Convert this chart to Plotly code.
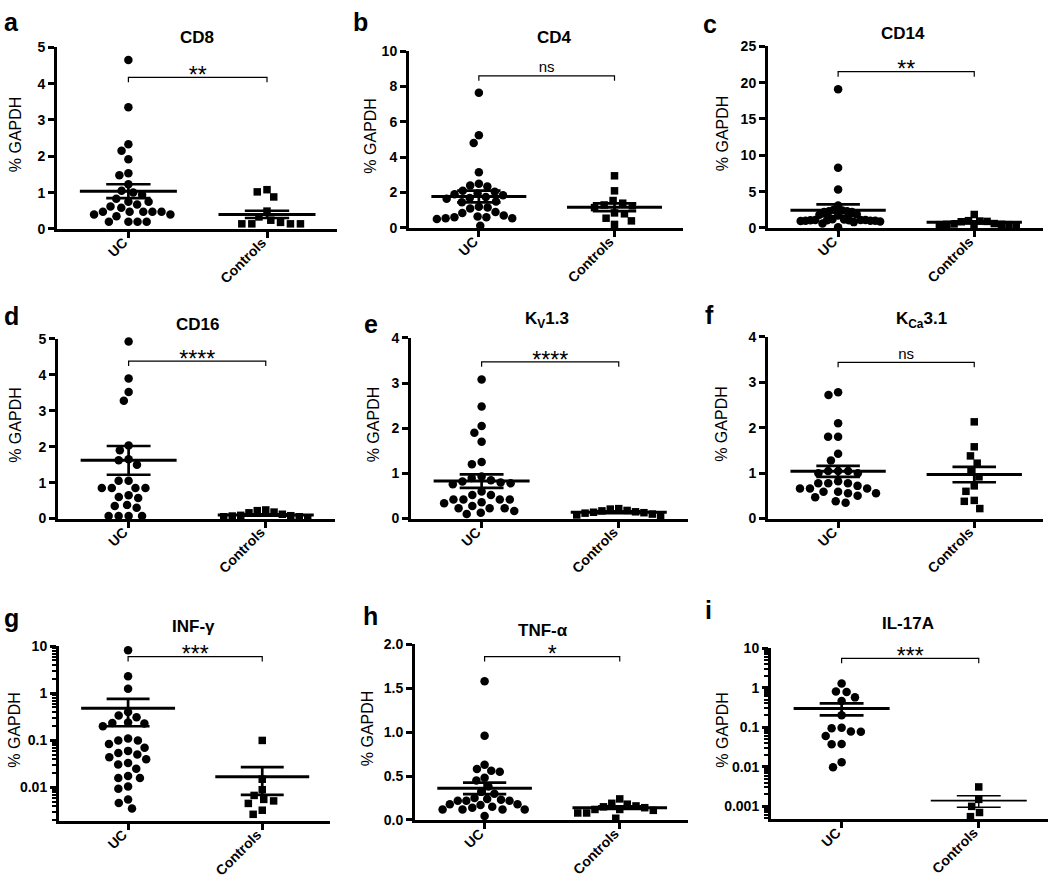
import math
import plotly.graph_objects as go

W, H = 1050, 882
FONT = "Liberation Sans, Arial, Helvetica, sans-serif"

# ---------------- data ----------------
groups = ["UC", "Controls"]
letters = ["a", "b", "c", "d", "e", "f", "g", "h", "i"]
titles = ["CD8", "CD4", "CD14", "CD16", "K<sub>V</sub>1.3", "K<sub>Ca</sub>3.1",
          "INF-γ", "TNF-α", "IL-17A"]
significance = ["**", "ns", "**", "****", "****", "ns", "***", "*", "***"]

cd8_uc = [4.65, 3.35, 2.33, 2.15, 1.92, 1.53, 1.48, 1.23, 1.05, 1.0, 0.94, 0.83, 0.75, 0.75,
          0.67, 0.62, 0.58, 0.47, 0.47, 0.47, 0.47, 0.47, 0.40, 0.40, 0.35, 0.2, 0.2, 0.2, 0.2]
cd8_ctrl = [1.08, 1.02, 0.88, 0.49, 0.33, 0.24, 0.18, 0.14, 0.14, 0.14, 0.14]

cd4_uc = [7.65, 5.25, 4.8, 3.15, 2.5, 2.4, 2.35, 2.1, 2.05, 1.95, 1.9, 1.85, 1.75, 1.7, 1.65,
          1.5, 1.45, 1.2, 1.15, 1.1, 0.9, 0.85, 0.7, 0.65, 0.6, 0.6, 0.55, 0.55, 0.5, 0.12]
cd4_ctrl = [2.95, 2.1, 1.55, 1.4, 1.3, 1.25, 1.15, 0.85, 0.8, 0.55, 0.4, 0.2]

cd14_uc = [19.1, 8.3, 5.3, 3.1, 2.5, 2.4, 2.3, 2.3, 2.2, 2.2, 1.9, 1.8, 1.7, 1.2, 1.15, 1.1,
           1.1, 1.1, 1.05, 1.05, 1.05, 1.0, 1.0, 1.0, 0.95, 0.9, 0.8, 0.6, 0.1]
cd14_ctrl = [1.85, 1.0, 0.95, 0.9, 0.85, 0.6, 0.55, 0.5, 0.5, 0.45, 0.45, 0.4, 0.1]

cd16_uc = [4.93, 3.9, 3.52, 3.28, 2.03, 1.9, 1.65, 1.62, 1.5, 1.05, 1.05, 0.85, 0.85, 0.85,
           0.85, 0.65, 0.6, 0.57, 0.38, 0.35, 0.3, 0.07, 0.07, 0.07, 0.07]
cd16_ctrl = [0.24, 0.18, 0.12, 0.08, 0.05, 0.02, 0.05, 0.07, 0.09, 0.16, 0.22]

kv13_uc = [3.08, 2.48, 2.05, 1.9, 1.7, 1.25, 1.2, 0.93, 0.9, 0.85, 0.82, 0.8, 0.78, 0.76, 0.6,
           0.52, 0.52, 0.42, 0.42, 0.42, 0.42, 0.36, 0.34, 0.28, 0.23, 0.23, 0.23, 0.17, 0.13, 0.1]
kv13_ctrl = [0.22, 0.18, 0.15, 0.13, 0.1, 0.05, 0.08, 0.12, 0.14, 0.17, 0.21]

kca31_uc = [2.78, 2.72, 2.1, 1.8, 1.8, 1.43, 1.28, 1.05, 1.05, 1.05, 1.0, 1.0, 0.82, 0.78, 0.78,
            0.78, 0.72, 0.66, 0.66, 0.66, 0.59, 0.59, 0.56, 0.56, 0.5, 0.47, 0.38, 0.35]
kca31_ctrl = [2.13, 1.58, 1.38, 1.22, 1.05, 0.92, 0.72, 0.6, 0.4, 0.38, 0.22]

infg_uc = [8.2, 2.3, 1.25, 0.4, 0.34, 0.31, 0.24, 0.235, 0.23, 0.2, 0.1, 0.1, 0.11, 0.084, 0.07,
           0.06, 0.05, 0.054, 0.04, 0.044, 0.031, 0.033, 0.025, 0.0176, 0.016, 0.016, 0.0105,
           0.0094, 0.0056, 0.0047, 0.0036]
infg_ctrl = [0.1, 0.015, 0.009, 0.0068, 0.0052, 0.0046, 0.0056, 0.0033, 0.0027]

tnfa_uc = [1.58, 0.96, 0.63, 0.58, 0.56, 0.55, 0.48, 0.45, 0.38, 0.32, 0.3, 0.25, 0.24, 0.23,
           0.22, 0.22, 0.22, 0.18, 0.18, 0.17, 0.15, 0.14, 0.12, 0.12, 0.12, 0.12, 0.045]
tnfa_ctrl = [0.24, 0.18, 0.19, 0.16, 0.15, 0.14, 0.12, 0.12, 0.11, 0.08, 0.08, 0.02]

il17a_uc = [1.28, 0.8, 0.78, 0.57, 0.46, 0.2, 0.097, 0.095, 0.078, 0.077, 0.06, 0.038, 0.037,
            0.013, 0.0097]
il17a_ctrl = [0.0031, 0.0015, 0.001, 0.0007, 0.00055]

# mean and SEM as drawn in the figure
uc_mean = [1.04, 1.78, 2.44, 1.62, 0.83, 1.04, 0.48, 0.36, 0.30]
uc_sem = [0.19, 0.33, 0.81, 0.40, 0.15, 0.12, 0.28, 0.065, 0.10]
ctrl_mean = [0.40, 1.17, 0.77, 0.10, 0.14, 0.97, 0.017, 0.14, 0.0014]
ctrl_sem = [0.10, 0.22, 0.15, 0.02, 0.02, 0.17, 0.010, 0.015, 0.00045]

# height of the significance bracket (data units)
bracket_y = [4.17, 8.6, 21.5, 4.38, 3.47, 3.44, 6.0, 1.86, 5.5]

# y tick labels
lin_ticks = [[0, 1, 2, 3, 4, 5], [0, 2, 4, 6, 8, 10], [0, 5, 10, 15, 20, 25],
             [0, 1, 2, 3, 4, 5], [0, 1, 2, 3, 4], [0, 1, 2, 3, 4], None,
             [0.0, 0.5, 1.0, 1.5, 2.0], None]
log_ticks_g = [0.01, 0.1, 1, 10]
log_ticks_i = [0.001, 0.01, 0.1, 1, 10]

uc_sets = [cd8_uc, cd4_uc, cd14_uc, cd16_uc, kv13_uc, kca31_uc, infg_uc, tnfa_uc, il17a_uc]
ctrl_sets = [cd8_ctrl, cd4_ctrl, cd14_ctrl, cd16_ctrl, kv13_ctrl, kca31_ctrl, infg_ctrl,
             tnfa_ctrl, il17a_ctrl]

# ---------------- layout geometry (pixels) ----------------
geom = [
    (57, 337, 40, 225, "linear", [0, 5]),
    (409, 683, 44, 224, "linear", [0, 10]),
    (768, 1043, 39, 224, "linear", [0, 25]),
    (58, 335, 337, 520, "linear", [0, 5]),
    (411, 688, 336, 520, "linear", [0, 4]),
    (768, 1043, 335, 520, "linear", [0, 4]),
    (59, 330, 650, 828, "log", [-2.71, 1]),
    (415, 688, 648, 827, "linear", [0, 2]),
    (771, 1048, 652, 826, "log", [-3.32, 1]),
]
XR = [-0.515, 1.505]
title_pos = [(197, 30), (554, 30), (903, 26), (197, 322), (547, 318), (922, 318),
             (193, 630), (543, 634), (908, 627)]
letter_pos = [(2, 14), (351, 14), (701, 16), (2, 314), (362, 322), (703, 313),
              (2, 621), (361, 619), (703, 613)]
ytitle_x = [15, 371, 722, 16, 373, 722, 15, 367, 723]
SWARM_HALF = 42.0


def to_px_fn(g):
    x0, x1, yt, yb, typ, rng = g
    def f(v):
        t = math.log10(v) if typ == "log" else v
        return yb - (t - rng[0]) / (rng[1] - rng[0]) * (yb - yt)
    return f


def swarm(vals, to_px, diam):
    ys = [to_px(v) for v in vals]
    order = sorted(range(len(vals)), key=lambda k: ys[k])
    placed = []
    xs = [0.0] * len(vals)
    for k in order:
        y = ys[k]
        cands = [0.0]
        for (px, py) in placed:
            dy = abs(py - y)
            if dy < diam:
                dx = math.sqrt(diam * diam - dy * dy)
                cands += [px + dx, px - dx]
        cands.sort(key=lambda c: (round(abs(c), 3), c))
        for c in cands:
            if all((c - px) ** 2 + (y - py) ** 2 >= diam * diam - 1e-6 for px, py in placed):
                xs[k] = c
                placed.append((c, y))
                break
    mx = max(abs(v) for v in xs) if xs else 0
    if mx > SWARM_HALF:
        xs = [v * SWARM_HALF / mx for v in xs]
    return xs


fig = go.Figure()
layout = dict(width=W, height=H, margin=dict(l=0, r=0, t=0, b=0),
              paper_bgcolor="white", plot_bgcolor="white", showlegend=False,
              font=dict(family=FONT, color="black"))
annotations = []

for p in range(9):
    g = geom[p]
    x0, x1, yt, yb, typ, rng = g
    sfx = "" if p == 0 else str(p + 1)
    xa, ya = "x" + sfx, "y" + sfx
    to_px = to_px_fn(g)
    px_per_unit = (x1 - x0) / (XR[1] - XR[0])

    # points
    for gi, (vals, sym, sz) in enumerate([(uc_sets[p], "circle", 8.5), (ctrl_sets[p], "square", 7.5)]):
        offs = swarm(vals, to_px, 10.0)
        fig.add_trace(go.Scatter(
            x=[gi + o / px_per_unit for o in offs], y=vals, mode="markers",
            marker=dict(symbol=sym, size=sz, color="black", line=dict(width=0)),
            xaxis=xa, yaxis=ya, hoverinfo="skip", cliponaxis=False))

    # mean and SEM
    for gi, (m, s) in enumerate([(uc_mean[p], uc_sem[p]), (ctrl_mean[p], ctrl_sem[p])]):
        lw = 1.6 if (p == 8 and gi == 1) else 3
        fig.add_trace(go.Scatter(
            x=[gi - 0.35, gi + 0.35], y=[m, m], mode="lines",
            line=dict(color="black", width=lw), xaxis=xa, yaxis=ya, hoverinfo="skip"))
        fig.add_trace(go.Scatter(
            x=[gi - 0.16, gi + 0.16, None, gi - 0.16, gi + 0.16, None, gi, gi],
            y=[m + s, m + s, None, m - s, m - s, None, m - s, m + s], mode="lines",
            line=dict(color="black", width=lw * 0.9), xaxis=xa, yaxis=ya, hoverinfo="skip"))

    # significance bracket
    b = bracket_y[p]
    stub = 5.0 / (yb - yt) * (rng[1] - rng[0])
    if typ == "log":
        b_low = 10 ** (math.log10(b) - stub)
    else:
        b_low = b - stub
    fig.add_trace(go.Scatter(
        x=[0, 0, 1, 1], y=[b_low, b, b, b_low], mode="lines",
        line=dict(color="black", width=1.2), xaxis=xa, yaxis=ya, hoverinfo="skip",
        cliponaxis=False))
    is_ns = significance[p] == "ns"
    fig.add_trace(go.Scatter(
        x=[0.5], y=[b], mode="text", text=[significance[p]],
        textposition="top center" if is_ns else "middle center", cliponaxis=False,
        textfont=dict(family=FONT, size=15 if is_ns else 23, color="black"),
        xaxis=xa, yaxis=ya, hoverinfo="skip"))

    # axes
    xkey = "xaxis" + sfx
    ykey = "yaxis" + sfx
    layout[xkey] = dict(
        domain=[x0 / W, x1 / W], anchor=ya, range=XR, tickmode="array",
        tickvals=[0, 1], ticktext=groups, tickangle=-45,
        tickfont=dict(family=FONT, size=14, color="black", weight="bold"),
        ticklabelstandoff=-9, ticklabelshift=-5,
        showline=True, linewidth=3, linecolor="black", ticks="outside",
        ticklen=6, tickwidth=3, tickcolor="black", showgrid=False, zeroline=False,
        fixedrange=True)
    yd = dict(
        domain=[1 - yb / H, 1 - yt / H], anchor=xa, showline=True, linewidth=3,
        linecolor="black", ticks="outside", ticklen=6, tickwidth=3, tickcolor="black",
        showgrid=False, zeroline=False, fixedrange=True,
        tickfont=dict(family=FONT, size=14, color="black", weight="bold"))
    if typ == "log":
        tv = log_ticks_g if p == 6 else log_ticks_i
        minor_vals = []
        for e in range(-4, 1):
            for k in range(2, 10):
                v = k * 10 ** e
                if rng[0] <= math.log10(v) <= rng[1]:
                    minor_vals.append(v)
        yd.update(type="log", range=rng, tickmode="array", tickvals=tv,
                  ticktext=[("%g" % v) for v in tv],
                  minor=dict(tickmode="array", tickvals=minor_vals, ticks="outside",
                             ticklen=4, tickwidth=2, tickcolor="black"))
    else:
        tv = lin_ticks[p]
        yd.update(type="linear", range=rng, tickmode="array", tickvals=tv,
                  ticktext=[("%.1f" % v) if p == 7 else ("%g" % v) for v in tv])
    layout[ykey] = yd

    # titles and labels
    tx, tyy = title_pos[p]
    annotations.append(dict(text="<b>%s</b>" % titles[p], x=tx / W, y=1 - tyy / H,
                            xref="paper", yref="paper", showarrow=False,
                            xanchor="center", yanchor="middle",
                            font=dict(family=FONT, size=17, color="black")))
    lx, ly = letter_pos[p]
    annotations.append(dict(text="<b>%s</b>" % letters[p], x=lx / W, y=1 - ly / H,
                            xref="paper", yref="paper", showarrow=False,
                            xanchor="left", yanchor="middle",
                            font=dict(family=FONT, size=25, color="black")))
    annotations.append(dict(text="% GAPDH", x=ytitle_x[p] / W, y=1 - ((yt + yb) / 2 - 4) / H,
                            xref="paper", yref="paper", showarrow=False, textangle=-90,
                            xanchor="center", yanchor="middle",
                            font=dict(family=FONT, size=16, color="black")))

layout["annotations"] = annotations
fig.update_layout(**layout)
fig.write_html("out.html", config={"displayModeBar": False, "staticPlot": True},
               post_script="document.body.style.margin='0px';document.body.style.padding='0px';")
